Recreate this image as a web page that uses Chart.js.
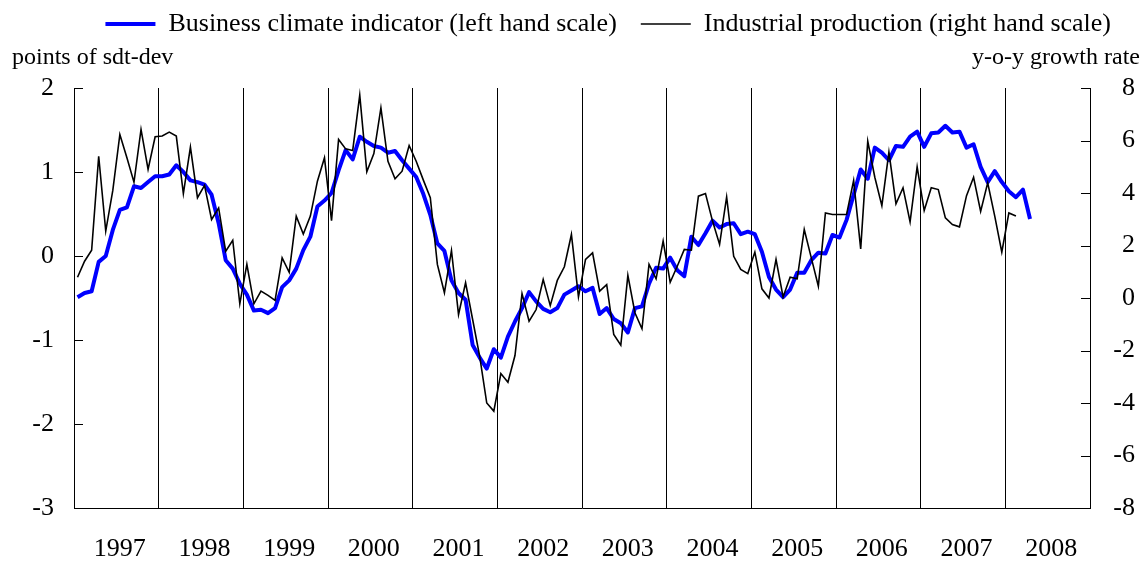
<!DOCTYPE html>
<html>
<head>
<meta charset="utf-8">
<title>Business climate indicator vs industrial production</title>
<script src="https://cdn.jsdelivr.net/npm/chart.js@4.4.1/dist/chart.umd.min.js"></script>
<style>
  html, body { margin: 0; padding: 0; background: #fff; }
  #chart { display: block; }
</style>
</head>
<body>
<canvas id="chart" width="1147" height="563"></canvas>
<script>
// tick labels on the time axis (one label per year, monthly data)
const years = ['1997', '1998', '1999', '2000', '2001', '2002', '2003', '2004', '2005', '2006', '2007', '2008'];
const months = ['01', '02', '03', '04', '05', '06', '07', '08', '09', '10', '11', '12'];

const leftAxisTitle = 'points of sdt-dev';
const rightAxisTitle = 'y-o-y growth rate';

const climateLabel = 'Business climate indicator (left hand scale)';
const productionLabel = 'Industrial production (right hand scale)';

// business climate indicator, Jan 1997 - Apr 2008 (left scale)
const climate = [
  -0.49, -0.44, -0.42, -0.07, 0.00, 0.31, 0.55, 0.58, 0.83, 0.81, 0.88, 0.95,   // 1997
  0.95, 0.97, 1.08, 1.00, 0.90, 0.88, 0.85, 0.73, 0.39, -0.05, -0.15, -0.33,   // 1998
  -0.46, -0.65, -0.64, -0.68, -0.62, -0.37, -0.29, -0.15, 0.07, 0.23, 0.59, 0.66,   // 1999
  0.75, 1.02, 1.26, 1.15, 1.42, 1.36, 1.31, 1.29, 1.23, 1.25, 1.14, 1.04,   // 2000
  0.94, 0.74, 0.49, 0.15, 0.06, -0.29, -0.44, -0.52, -1.06, -1.21, -1.34, -1.11,   // 2001
  -1.21, -0.96, -0.78, -0.62, -0.43, -0.54, -0.63, -0.67, -0.62, -0.46, -0.41, -0.36,   // 2002
  -0.42, -0.38, -0.69, -0.62, -0.75, -0.80, -0.91, -0.62, -0.60, -0.33, -0.14, -0.15,   // 2003
  -0.02, -0.17, -0.24, 0.23, 0.13, 0.27, 0.42, 0.34, 0.38, 0.39, 0.26, 0.29,   // 2004
  0.26, 0.05, -0.25, -0.40, -0.49, -0.40, -0.20, -0.20, -0.05, 0.04, 0.03, 0.25,   // 2005
  0.22, 0.43, 0.73, 1.03, 0.92, 1.29, 1.23, 1.14, 1.31, 1.30, 1.42, 1.48,   // 2006
  1.30, 1.46, 1.47, 1.55, 1.47, 1.48, 1.29, 1.33, 1.06, 0.88, 1.01, 0.88,   // 2007
  0.77, 0.70, 0.79, 0.44   // 2008
];

// industrial production, y-o-y growth, Jan 1997 - Feb 2008 (right scale)
const production = [
  0.79, 1.40, 1.82, 5.40, 2.55, 4.10, 6.23, 5.34, 4.41, 6.42, 4.90, 6.14,   // 1997
  6.17, 6.32, 6.17, 3.98, 5.75, 3.82, 4.29, 2.99, 3.43, 1.78, 2.20, -0.22,   // 1998
  1.28, -0.22, 0.26, 0.10, -0.09, 1.53, 0.98, 3.12, 2.44, 3.12, 4.45, 5.34,   // 1999
  2.95, 6.04, 5.68, 5.62, 7.73, 4.81, 5.50, 7.24, 5.21, 4.54, 4.83, 5.81,   // 2000
  5.21, 4.50, 3.82, 1.28, 0.20, 1.81, -0.63, 0.58, -0.82, -2.22, -4.00, -4.31,   // 2001
  -2.88, -3.21, -2.19, 0.17, -0.88, -0.44, 0.70, -0.29, 0.67, 1.19, 2.42, 0.04,   // 2002
  1.47, 1.72, 0.26, 0.51, -1.39, -1.80, 0.86, -0.56, -1.17, 1.28, 0.73, 2.17,   // 2003
  0.60, 1.21, 1.85, 1.82, 3.88, 3.98, 2.93, 2.04, 3.85, 1.59, 1.09, 0.93,   // 2004
  1.75, 0.35, 0.00, 1.47, 0.04, 0.79, 0.73, 2.61, 1.53, 0.45, 3.24, 3.18,   // 2005
  3.18, 3.18, 4.48, 1.87, 5.97, 4.60, 3.52, 5.56, 3.59, 4.20, 2.90, 5.00,   // 2006
  3.33, 4.20, 4.13, 3.05, 2.80, 2.71, 3.90, 4.60, 3.30, 4.39, 3.12, 1.75,   // 2007
  3.24, 3.12   // 2008
];

const categories = years.flatMap(y => months.map(m => y + '-' + m));

const FONT = '"Liberation Serif", "Times New Roman", serif';
Chart.defaults.font.family = FONT;
Chart.defaults.color = '#000';

// legend needs room below it for the two axis titles
const legendSpacer = {
  id: 'legendSpacer',
  beforeLayout(chart) {
    const legend = chart.legend;
    if (!legend || legend._spaced) return;
    const origFit = legend.fit;
    legend.fit = function fit() {
      origFit.call(legend);
      this.height += 41;
    };
    legend._spaced = true;
  }
};

// inside tick marks on both value axes + the axis titles above them
const axisExtras = {
  id: 'axisExtras',
  afterDraw(chart) {
    const { ctx, chartArea } = chart;
    const left = chart.scales.y;
    const right = chart.scales.y1;
    ctx.save();
    ctx.strokeStyle = '#000';
    ctx.lineWidth = 1;
    ctx.beginPath();
    left.ticks.forEach(t => {
      const py = Math.round(left.getPixelForValue(t.value)) + 0.5;
      ctx.moveTo(chartArea.left, py);
      ctx.lineTo(chartArea.left + 9, py);
    });
    right.ticks.forEach(t => {
      const py = Math.round(right.getPixelForValue(t.value)) + 0.5;
      ctx.moveTo(chartArea.right - 9, py);
      ctx.lineTo(chartArea.right, py);
    });
    ctx.stroke();

    ctx.fillStyle = '#000';
    ctx.font = '24px ' + FONT;
    ctx.textBaseline = 'middle';
    ctx.textAlign = 'left';
    ctx.fillText(leftAxisTitle, chartArea.left - 62, chartArea.top - 30);
    ctx.textAlign = 'right';
    ctx.fillText(rightAxisTitle, chartArea.right + 50, chartArea.top - 30);
    ctx.restore();
  }
};

new Chart(document.getElementById('chart'), {
  type: 'line',
  data: {
    labels: categories,
    datasets: [
      {
        label: climateLabel,
        data: climate,
        yAxisID: 'y',
        borderColor: '#0000ff',
        borderWidth: 4,
        borderJoinStyle: 'round',
        order: 1
      },
      {
        label: productionLabel,
        data: production,
        yAxisID: 'y1',
        borderColor: '#000000',
        borderWidth: 1.6,
        order: 0   // drawn on top of the blue line
      }
    ]
  },
  options: {
    responsive: false,
    animation: false,
    events: [],
    layout: {
      padding: { top: -13, right: 12, bottom: 0, left: 0 }
    },
    elements: {
      point: { radius: 0 },
      line: { tension: 0, fill: false }
    },
    plugins: {
      legend: {
        position: 'top',
        align: 'end',
        labels: {
          usePointStyle: true,
          pointStyle: 'line',
          pointStyleWidth: 50,
          padding: 24,
          color: '#000',
          font: { size: 26 },
          sort: (a, b) => a.datasetIndex - b.datasetIndex
        }
      },
      title: { display: false },
      tooltip: { enabled: false }
    },
    scales: {
      x: {
        type: 'category',
        offset: true,
        afterFit(scale) { scale.height = 55; },
        grid: {
          offset: true,
          drawTicks: false,
          lineWidth: 1,
          color: (ctx) => (ctx.index > 0 && ctx.index < categories.length && ctx.index % 12 === 0) ? '#000' : 'rgba(0,0,0,0)'
        },
        border: { display: true, color: '#000', width: 1 },
        ticks: {
          autoSkip: false,
          maxRotation: 0,
          minRotation: 0,
          padding: 26,
          font: { size: 26 },
          callback: (value, index) => index % 12 === 6 ? years[Math.floor(index / 12)] : ''
        }
      },
      y: {
        position: 'left',
        min: -3,
        max: 2,
        afterFit(scale) { scale.width = 74; },
        grid: { drawOnChartArea: false, drawTicks: false },
        border: { display: true, color: '#000', width: 1 },
        ticks: { stepSize: 1, padding: 20, crossAlign: 'near', font: { size: 26 } }
      },
      y1: {
        position: 'right',
        min: -8,
        max: 8,
        afterFit(scale) { scale.width = 45; },
        grid: { drawOnChartArea: false, drawTicks: false },
        border: { display: true, color: '#000', width: 1 },
        ticks: { stepSize: 2, crossAlign: 'far', font: { size: 26 } }
      }
    }
  },
  plugins: [legendSpacer, axisExtras]
});
</script>
</body>
</html>
